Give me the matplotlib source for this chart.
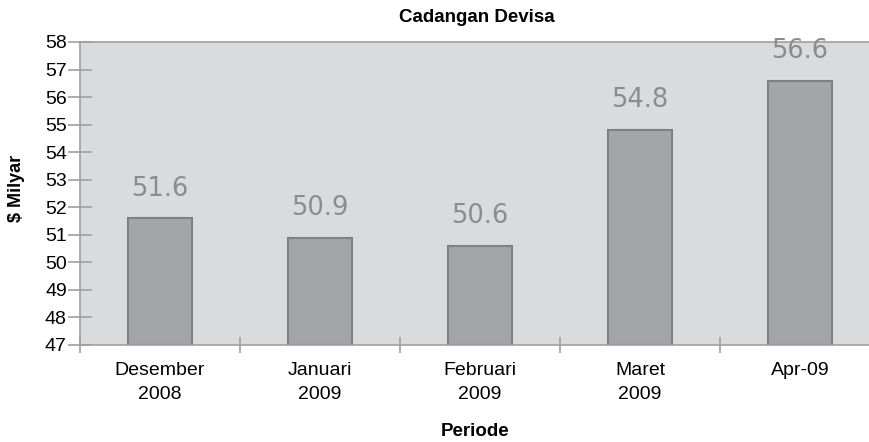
import numpy as np
import matplotlib.pyplot as plt

periods = ['Desember\n2008', 'Januari\n2009', 'Februari\n2009', 'Maret\n2009', 'Apr-09']
reserves = [51.6, 50.9, 50.6, 54.8, 56.6]
yticks = np.arange(47, 59)

fig = plt.figure(figsize=(8.7, 4.42), dpi=100)
ax = fig.add_axes([80/870, 97/442, 800/870, 303/442])
ax.set_facecolor('#dadbdd')

x = np.arange(len(periods))
bars = ax.bar(x, [v - 47 for v in reserves], bottom=47, width=0.4,
              color='#a4a5a8', edgecolor='#808083', linewidth=1.5)
for xi, v in zip(x, reserves):
    ax.annotate(f'{v}', (xi, v), xytext=(0, 12), textcoords='offset points',
                ha='center', va='bottom', fontsize=18.5, color='#8c8c8e',
                family='DejaVu Sans')

ax.set_xlim(-0.5, len(periods) - 0.5)
ax.set_ylim(47, 58)
ax.set_yticks(yticks)
ax.set_yticklabels([str(t) for t in yticks], family='Liberation Sans', fontsize=14)
ax.set_xticks(x)
ax.set_xticklabels(periods, family='Liberation Sans', fontsize=14, linespacing=1.6)
ax.set_xticks(np.arange(len(periods) + 1) - 0.5, minor=True)
ax.tick_params(axis='x', which='major', length=0, pad=12)
ax.tick_params(axis='x', which='minor', direction='inout', length=12, color='#a0a0a0', width=1.2)
ax.tick_params(axis='y', direction='inout', length=17, color='#a0a0a0', width=1.2, pad=1)

for side in ['left', 'bottom', 'top']:
    ax.spines[side].set_color('#a0a0a0')
    ax.spines[side].set_linewidth(1.2)
ax.spines['right'].set_visible(False)

fig.text(477/870, 1 - 18/442, 'Cadangan Devisa', ha='center', va='center',
         fontsize=13.5, fontweight='bold', family='Liberation Sans')
fig.text(475/870, 1 - 431/442, 'Periode', ha='center', va='center',
         fontsize=13.5, fontweight='bold', family='Liberation Sans')
fig.text(17/870, 1 - 188/442, '$ Milyar', ha='center', va='center', rotation=90,
         fontsize=13, fontweight='bold', family='Liberation Sans')

fig.savefig('out.png', dpi=100)
